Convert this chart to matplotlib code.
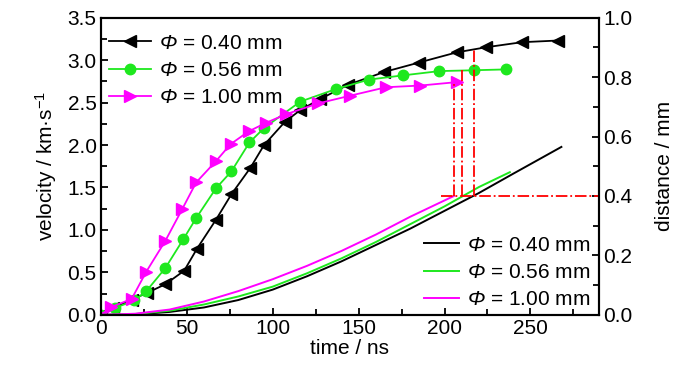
import matplotlib
matplotlib.use("Agg")
import matplotlib.pyplot as plt
from matplotlib.ticker import MultipleLocator

plt.rcParams['font.family'] = ['Liberation Sans', 'DejaVu Sans']
plt.rcParams['mathtext.fontset'] = 'custom'
plt.rcParams['mathtext.rm'] = 'Liberation Sans:italic'
plt.rcParams['mathtext.it'] = 'Liberation Sans:italic'
plt.rcParams['mathtext.sf'] = 'Liberation Sans'

# velocity (left axis)
t_v040 = [0, 7, 18, 27, 37.5, 48.5, 56, 67, 76, 87, 95, 107, 116, 127.5, 144, 165, 185, 207, 224, 245, 266]
v_040 = [0, 0.08, 0.18, 0.26, 0.36, 0.52, 0.78, 1.12, 1.42, 1.73, 2.0, 2.27, 2.41, 2.54, 2.71, 2.86, 2.97, 3.09, 3.15, 3.21, 3.23]
t_v056 = [0, 8, 19.6, 26.5, 37.5, 48, 55.5, 67, 76, 86.5, 95, 116, 137, 156, 176, 197, 217, 236]
v_056 = [0, 0.08, 0.17, 0.28, 0.55, 0.89, 1.14, 1.49, 1.69, 2.03, 2.20, 2.51, 2.66, 2.77, 2.82, 2.87, 2.88, 2.89]
t_v100 = [0, 6, 18, 26.5, 37.5, 47.5, 55.5, 67, 75.5, 86, 96, 107.5, 126.5, 145, 166, 186, 207]
v_100 = [0, 0.09, 0.19, 0.51, 0.87, 1.25, 1.56, 1.81, 2.01, 2.16, 2.26, 2.36, 2.49, 2.58, 2.68, 2.70, 2.74]

# distance (right axis)
t_d040 = [0, 20, 40, 60, 80, 100, 120, 140, 160, 180, 200, 220, 240, 268]
d_040 = [0, 0.002, 0.01, 0.025, 0.05, 0.085, 0.13, 0.18, 0.235, 0.29, 0.35, 0.41, 0.475, 0.565]
t_d056 = [0, 20, 40, 60, 80, 100, 120, 140, 160, 180, 200, 220, 238]
d_056 = [0, 0.003, 0.014, 0.035, 0.062, 0.095, 0.14, 0.19, 0.245, 0.305, 0.365, 0.43, 0.48]
t_d100 = [0, 20, 40, 60, 80, 100, 120, 140, 160, 180, 200, 205.5]
d_100 = [0, 0.004, 0.018, 0.045, 0.08, 0.12, 0.165, 0.215, 0.27, 0.33, 0.385, 0.4]

# 0.4 mm marks
cross_t = [205.4, 210.2, 216.9]
cross_v = [2.74, 2.88, 3.14]
mark_d = 0.4
mark_t0 = 198

labels = [r'$\Phi$ = 0.40 mm', r'$\Phi$ = 0.56 mm', r'$\Phi$ = 1.00 mm']
colors = ['black', '#1ee81e', '#ff00ff']
fs = 15

fig = plt.figure(figsize=(7, 3.74), dpi=100)
ax = fig.add_axes([0.144, 0.158, 0.712, 0.795])
ax2 = ax.twinx()

ax.plot(t_v040, v_040, color=colors[0], marker='<', ms=8, lw=1.3, label=labels[0])
ax.plot(t_v056, v_056, color=colors[1], marker='o', ms=7.5, lw=1.3, label=labels[1])
ax.plot(t_v100, v_100, color=colors[2], marker='>', ms=8, lw=1.3, label=labels[2])

ax2.plot(t_d040, d_040, color=colors[0], lw=1.4, label=labels[0])
ax2.plot(t_d056, d_056, color=colors[1], lw=1.4, label=labels[1])
ax2.plot(t_d100, d_100, color=colors[2], lw=1.4, label=labels[2])

for tc, vc in zip(cross_t, cross_v):
    ax2.plot([tc, tc], [mark_d, vc / 3.5], color='red', ls='-.', lw=1.3)
ax2.plot([mark_t0, 290], [mark_d, mark_d], color='red', ls='-.', lw=1.3)

ax.set_xlim(0, 290)
ax.set_ylim(0, 3.5)
ax2.set_ylim(0, 1.0)
ax.xaxis.set_major_locator(MultipleLocator(50))
ax.xaxis.set_minor_locator(MultipleLocator(25))
ax.yaxis.set_major_locator(MultipleLocator(0.5))
ax.yaxis.set_minor_locator(MultipleLocator(0.25))
ax2.yaxis.set_major_locator(MultipleLocator(0.2))
ax2.yaxis.set_minor_locator(MultipleLocator(0.1))
ax.yaxis.set_major_formatter(plt.FormatStrFormatter('%.1f'))
ax2.yaxis.set_major_formatter(plt.FormatStrFormatter('%.1f'))

for a in (ax, ax2):
    a.tick_params(which='both', direction='in', labelsize=fs, width=1.3, pad=3)
    a.tick_params(which='major', length=5)
    a.tick_params(which='minor', length=4)
    for s in a.spines.values():
        s.set_linewidth(1.5)
ax.tick_params(top=False, right=False)

ax.set_xlabel('time / ns', fontsize=fs, labelpad=1)
ax.set_ylabel(r'velocity / km·s$^{\mathsf{-1}}$', fontsize=fs, labelpad=6)
ax2.set_ylabel('distance / mm', fontsize=fs, labelpad=16)

ax.legend(loc='upper left', bbox_to_anchor=(-0.012, 0.995), frameon=False, fontsize=fs,
          handlelength=2.0, handletextpad=0.4, labelspacing=0.4, borderaxespad=0.3)
ax2.legend(loc='lower right', bbox_to_anchor=(1.012, -0.03), frameon=False, fontsize=fs,
           handlelength=1.7, handletextpad=0.4, labelspacing=0.4, borderaxespad=0.3)

fig.savefig('out.png', dpi=100)
